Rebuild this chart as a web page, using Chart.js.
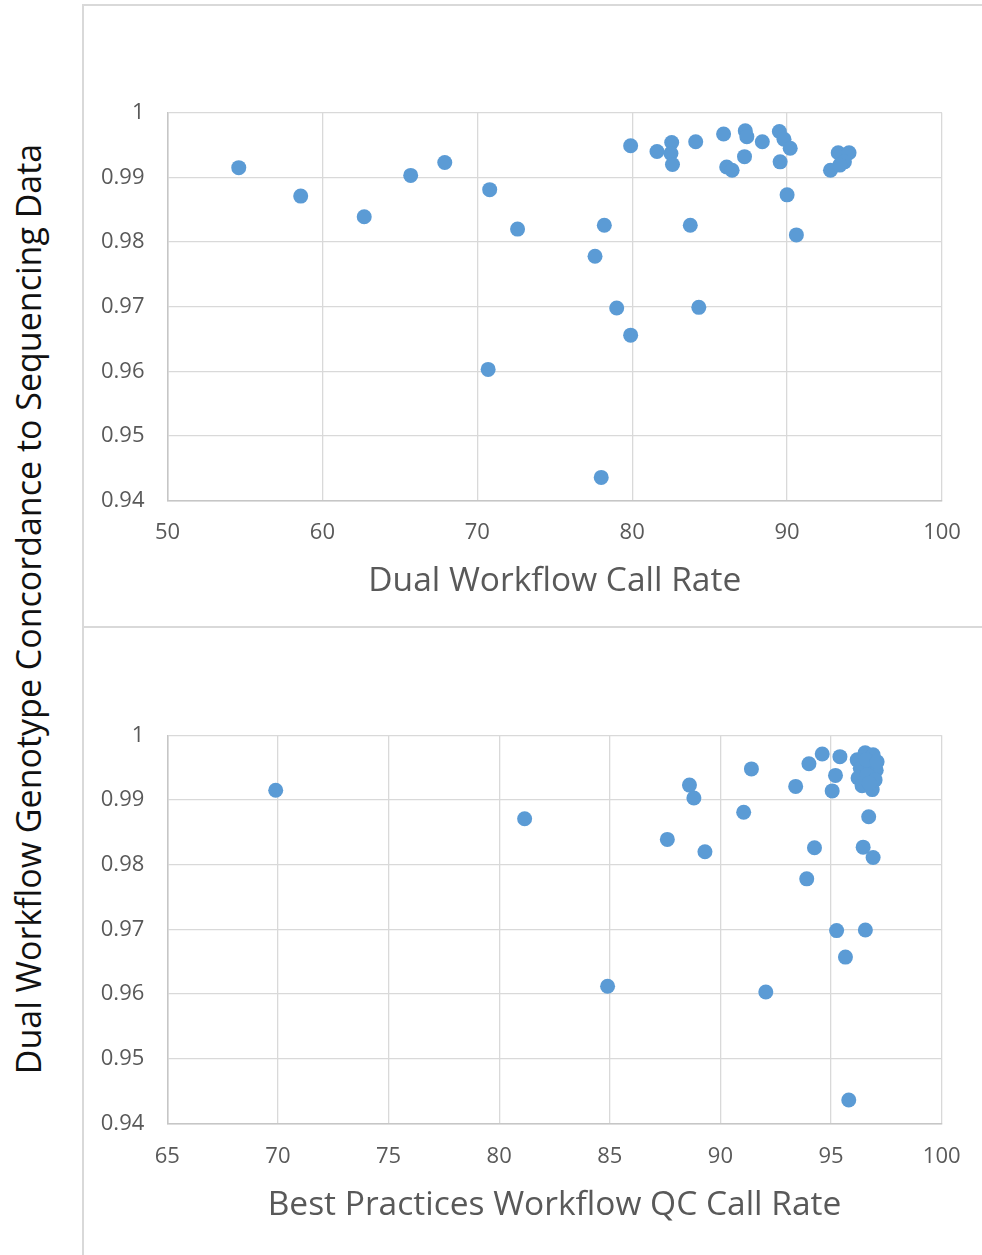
<!DOCTYPE html>
<html>
<head>
<meta charset="utf-8">
<title>Dual Workflow Genotype Concordance</title>
<script src="https://cdn.jsdelivr.net/npm/chart.js@4.4.1/dist/chart.umd.min.js"></script>
<style>
    html, body { margin: 0; padding: 0; background: #fff; }
    #page { position: relative; width: 982px; height: 1255px; overflow: hidden; font-family: 'Open Sans', sans-serif; }
    .frame { position: absolute; left: 82px; top: 4px; width: 920px; height: 1270px; border-left: 2px solid #d9d9d9; border-top: 2px solid #d9d9d9; }
    .separator { position: absolute; left: 82px; top: 626px; width: 920px; height: 2px; background: #d9d9d9; }
    .y-title { position: absolute; left: -472px; top: 589px; width: 1000px; height: 40px; line-height: 40px; text-align: center; font-size: 34px; color: #111; transform: rotate(-90deg); white-space: nowrap; }
    canvas { position: absolute; left: 90px; }
    #chartTop { top: 60px; }
    #chartBottom { top: 680px; }
</style>
</head>
<body>
<div id="page">
    <div class="frame"></div>
    <div class="separator"></div>
    <div class="y-title">Dual Workflow Genotype Concordance to Sequencing Data</div>
    <canvas id="chartTop" width="902" height="560"></canvas>
    <canvas id="chartBottom" width="902" height="575"></canvas>
</div>

<script>
// top panel: dual workflow call rate vs concordance
const dualCallRate = [
    54.6, 58.6, 62.7, 65.7, 67.9, 70.8, 72.6, 70.7,
    79.9, 78.2, 83.75, 77.6, 79.0, 84.3, 79.9, 78.0, 90.0, 90.6,
    81.6, 82.55, 82.5, 82.6, 84.1, 85.9, 87.3, 87.4, 88.4, 87.25, 86.1, 86.45,
    89.5, 89.8, 90.2, 89.55, 92.8, 93.3, 94.0, 93.7, 93.4
];
const dualConcordance = [
    0.9915, 0.9871, 0.9839, 0.9903, 0.9923, 0.9881, 0.9820, 0.9603,
    0.9949, 0.9826, 0.9826, 0.9778, 0.9698, 0.9699, 0.9656, 0.9436, 0.9873, 0.9811,
    0.9940, 0.9954, 0.9937, 0.9920, 0.9955, 0.9967, 0.9972, 0.9963, 0.9955, 0.9932, 0.9916, 0.9911,
    0.9971, 0.9959, 0.9945, 0.9924, 0.9911, 0.9938, 0.9938, 0.9924, 0.9919
];

// bottom panel: best practices QC call rate vs concordance
const qcCallRate = [
    69.9, 81.15, 84.9, 88.6, 88.8, 87.6, 89.3, 91.4, 91.05, 92.05,
    93.4, 94.0, 94.6, 95.4, 95.2, 95.05, 94.25, 93.9, 95.25, 96.55,
    95.65, 95.8, 96.7, 96.45, 96.9,
    96.18, 96.54, 96.9, 96.32, 96.77, 97.04, 96.22, 96.63, 96.99, 96.4, 96.86, 96.59, 96.72, 97.08
];
const qcConcordance = [
    0.9915, 0.9871, 0.9612, 0.9923, 0.9903, 0.9839, 0.9820, 0.9948, 0.9881, 0.9603,
    0.9921, 0.9956, 0.9971, 0.9967, 0.9938, 0.9914, 0.9826, 0.9778, 0.9698, 0.9699,
    0.9657, 0.9436, 0.9874, 0.9827, 0.9811,
    0.9962, 0.9973, 0.9970, 0.9949, 0.9954, 0.9946, 0.9934, 0.9939, 0.9931, 0.9922, 0.9916, 0.9962, 0.9926, 0.9959
];

// tick labels
const yTicks = [0.94, 0.95, 0.96, 0.97, 0.98, 0.99, 1];
const xTicksTop = [50, 60, 70, 80, 90, 100];
const xTicksBottom = [65, 70, 75, 80, 85, 90, 95, 100];

Chart.defaults.font.family = "'Open Sans', sans-serif";
Chart.defaults.color = '#595959';

function toPoints(xs, ys) {
    return xs.map((x, i) => ({ x: x, y: ys[i] }));
}

function buildScatter(canvasId, xs, ys, xTicks, xTitle, box) {
    const ctx = document.getElementById(canvasId).getContext('2d');
    return new Chart(ctx, {
        type: 'scatter',
        data: {
            datasets: [{
                data: toPoints(xs, ys),
                backgroundColor: '#5B9BD5',
                borderWidth: 0,
                pointRadius: 7.5,
                pointHoverRadius: 7.5
            }]
        },
        options: {
            responsive: false,
            animation: false,
            layout: { padding: { top: box.padTop, right: box.padRight, left: 0, bottom: 0 } },
            plugins: {
                legend: { display: false },
                tooltip: { enabled: false }
            },
            scales: {
                x: {
                    type: 'linear',
                    min: xTicks[0],
                    max: xTicks[xTicks.length - 1],
                    afterBuildTicks: scale => { scale.ticks = xTicks.map(v => ({ value: v })); },
                    afterFit: scale => { scale.height = box.xHeight; },
                    grid: { color: '#d9d9d9', lineWidth: 1.3, drawTicks: false },
                    border: { color: '#c6c6c6', width: 1.5 },
                    ticks: { padding: box.tickPad, font: { size: 22 }, color: '#595959', callback: v => String(v) },
                    title: {
                        display: true,
                        text: xTitle,
                        font: { size: 33.5 },
                        color: '#595959',
                        padding: { top: 0, bottom: box.titlePad }
                    }
                },
                y: {
                    type: 'linear',
                    min: yTicks[0],
                    max: yTicks[yTicks.length - 1],
                    afterBuildTicks: scale => { scale.ticks = yTicks.map(v => ({ value: v })); },
                    afterFit: scale => { scale.width = box.yWidth; },
                    grid: { color: '#d9d9d9', lineWidth: 1.3, drawTicks: false },
                    border: { color: '#c6c6c6', width: 1.5 },
                    ticks: { padding: 23, font: { size: 22 }, color: '#595959', callback: v => String(v) }
                }
            }
        }
    });
}

document.addEventListener('DOMContentLoaded', function() {
    buildScatter('chartTop', dualCallRate, dualConcordance, xTicksTop, 'Dual Workflow Call Rate',
        { padTop: 52.7, padRight: 50, yWidth: 77.5, xHeight: 119.3, tickPad: 19.1, titlePad: 18.9 });
    buildScatter('chartBottom', qcCallRate, qcConcordance, xTicksBottom, 'Best Practices Workflow QC Call Rate',
        { padTop: 55.3, padRight: 50.3, yWidth: 77.3, xHeight: 131.7, tickPad: 20.5, titlePad: 29.9 });
});
</script>
</body>
</html>
